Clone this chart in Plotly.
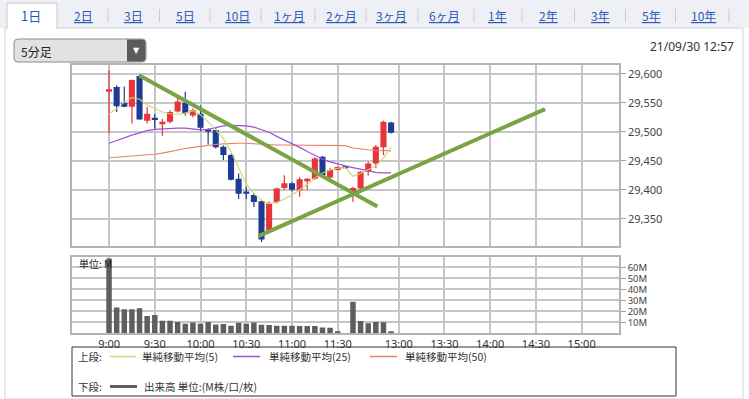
import plotly.graph_objects as go

W, H = 749, 399

# ---------------- data ----------------
times = ["9:00", "9:05", "9:10", "9:15", "9:20", "9:25", "9:30", "9:35", "9:40", "9:45", "9:50", "9:55",
         "10:00", "10:05", "10:10", "10:15", "10:20", "10:25", "10:30", "10:35", "10:40", "10:45", "10:50", "10:55",
         "11:00", "11:05", "11:10", "11:15", "11:20", "11:25", "11:30", "11:35",
         "12:30", "12:35", "12:40", "12:45", "12:50", "12:55"]
opens = [29569, 29577, 29550, 29543, 29596, 29519, 29524, 29514, 29517, 29535, 29550, 29528,
         29531, 29504, 29503, 29474, 29460, 29419, 29397, 29391, 29380, 29330, 29379, 29403,
         29411, 29399, 29416, 29419, 29457, 29421, 29434, 29440,
         29395, 29402, 29431, 29445, 29473, 29516]
highs = [29606, 29580, 29578, 29590, 29598, 29543, 29530, 29522, 29537, 29558, 29569, 29540,
         29545, 29506, 29506, 29476, 29462, 29428, 29405, 29394, 29381, 29380, 29404, 29425,
         29413, 29422, 29420, 29456, 29458, 29438, 29440, 29440,
         29405, 29432, 29448, 29477, 29519, 29517]
lows = [29497, 29534, 29542, 29514, 29521, 29514, 29505, 29493, 29514, 29533, 29528, 29525,
        29500, 29478, 29471, 29451, 29416, 29384, 29384, 29370, 29310, 29328, 29376, 29400,
        29397, 29388, 29400, 29417, 29424, 29419, 29433, 29438,
        29379, 29400, 29424, 29437, 29460, 29497]
closes = [29573, 29544, 29543, 29589, 29521, 29531, 29520, 29517, 29534, 29552, 29532, 29537,
          29507, 29500, 29473, 29460, 29417, 29393, 29393, 29379, 29314, 29376, 29402, 29411,
          29400, 29418, 29419, 29454, 29425, 29434, 29439, 29438,
          29403, 29431, 29445, 29474, 29517, 29498]
volumes = [68, 23.5, 21.8, 21.8, 22.7, 15.7, 16.6, 11.5, 11.5, 10.2, 8.6, 9.9,
           8.8, 10.4, 8.1, 8.5, 6.9, 9.5, 8.6, 9.8, 7.7, 7.6, 6.9, 6.9,
           6.8, 6.7, 6.7, 6.6, 5.2, 5.1, 1.2, None,
           28.8, 11.2, 9.1, 10.3, 10.0, 1.2]
ma5 = [29531, 29540, 29551, 29559, 29556, 29546, 29540, 29534, 29531, 29530, 29532, 29536,
       29529, 29517, 29503, 29488, 29466, 29437, 29410, 29393, 29382, 29376, 29378, 29384,
       29391, 29400, 29409, 29420, 29429, 29434, 29437, 29438,
       29423, 29428, 29434, 29441, 29455, 29474]
ma25 = [29480, 29485, 29490, 29494, 29498, 29502, 29504, 29505, 29506, 29506, 29506, 29504,
        29503, 29504, 29507, 29510, 29511, 29511, 29510, 29508, 29504, 29499, 29492, 29486,
        29480, 29473, 29466, 29459, 29453, 29448, 29444, 29441,
        29438, 29435, 29432, 29430, 29429, 29429]
ma50 = [29455, 29456, 29456, 29457, 29458, 29460, 29461, 29463, 29466, 29469, 29471, 29473,
        29475, 29477, 29478, 29479, 29480, 29480, 29480, 29479, 29478, 29477, 29477, 29477,
        29477, 29477, 29477, 29477, 29477, 29476, 29476, 29476,
        29472, 29470, 29469, 29468, 29467, 29467]
trend_down_t = ["9:20", "12:46"]
trend_down_p = [29597, 29371]
trend_up_t = ["10:38", "14:36"]
trend_up_p = [29320, 29539]
tick_times = ["9:00", "9:30", "10:00", "10:30", "11:00", "11:30", "13:00", "13:30", "14:00", "14:30", "15:00"]
price_ticks = [29350, 29400, 29450, 29500, 29550, 29600]
vol_ticks = [10, 20, 30, 40, 50, 60]
vol_tick_text = ["10M", "20M", "30M", "40M", "50M", "60M"]
tabs = ["1日", "2日", "3日", "5日", "10日", "1ヶ月", "2ヶ月", "3ヶ月", "6ヶ月", "1年", "2年", "3年", "5年", "10年"]


def pos(t):
    h, m = t.split(":")
    mins = int(h) * 60 + float(m)
    if mins < 12 * 60:
        return (mins - 9 * 60) / 5
    return (mins - (12 * 60 + 30)) / 5 + 32


def px(x):
    return x / W


def py(y):
    return 1 - y / H


RED = "#e6353b"
BLUE = "#1e3c96"
GRID = "#c6c6c6"
BORDER = "#b4b4b4"
FONT = "Noto Sans CJK JP"

xs = [pos(t) for t in times]

# wicks
wx = {RED: [], BLUE: []}
wy = {RED: [], BLUE: []}
body_base, body_h, body_col = [], [], []
for x, o, h, l, c in zip(xs, opens, highs, lows, closes):
    col = RED if c >= o else BLUE
    wx[col] += [x, x, None]
    wy[col] += [l, h, None]
    body_base.append(min(o, c))
    body_h.append(abs(c - o))
    body_col.append(col)

fig = go.Figure()
for col in (RED, BLUE):
    fig.add_trace(go.Scatter(x=wx[col], y=wy[col], mode="lines",
                             line=dict(color=col, width=1.2), hoverinfo="skip", showlegend=False))
fig.add_trace(go.Bar(x=xs, y=body_h, base=body_base, width=0.8,
                     marker=dict(color=body_col, line=dict(width=0)), showlegend=False))
fig.add_trace(go.Scatter(x=xs, y=ma50, mode="lines", line=dict(color="#e2846a", width=1.1), showlegend=False))
fig.add_trace(go.Scatter(x=xs, y=ma25, mode="lines", line=dict(color="#a24fd6", width=1.2), showlegend=False))
fig.add_trace(go.Scatter(x=xs, y=ma5, mode="lines", line=dict(color="#ccd870", width=1.1), showlegend=False))
fig.add_trace(go.Scatter(x=[pos(t) for t in trend_down_t], y=trend_down_p, mode="lines",
                         line=dict(color="#79a443", width=4), showlegend=False))
fig.add_trace(go.Scatter(x=[pos(t) for t in trend_up_t], y=trend_up_p, mode="lines",
                         line=dict(color="#79a443", width=4), showlegend=False))
fig.add_trace(go.Bar(x=xs, y=volumes, width=0.72, marker=dict(color="#5e5e5e", line=dict(width=0)),
                     xaxis="x2", yaxis="y2", showlegend=False))

xdom = [px(72), px(619)]
xrange_ = [-4.86, 66.9]
tickpos = [pos(t) for t in tick_times]

common_x = dict(domain=xdom, range=xrange_, tickvals=tickpos, showgrid=True, gridcolor=GRID, gridwidth=1.5,
                zeroline=False, showline=True, mirror=True, linecolor=BORDER, linewidth=1.5,
                automargin=False, fixedrange=True)
common_y = dict(side="right", showgrid=True, gridcolor=GRID, gridwidth=1.5, zeroline=False,
                showline=True, mirror=True, linecolor=BORDER, linewidth=1.5, ticks="outside",
                ticklen=5, tickcolor="#a0a0a0", automargin=False, fixedrange=True)

shapes = []
annotations = []

# tab strip
shapes.append(dict(type="rect", xref="paper", yref="paper", x0=px(0), x1=px(749), y0=py(28), y1=py(0),
                   fillcolor="#eef0f6", line=dict(width=0), layer="below"))
shapes.append(dict(type="rect", xref="paper", yref="paper", x0=px(5), x1=px(743), y0=py(399), y1=py(28),
                   fillcolor="white", line=dict(color="#cfd2da", width=1), layer="below"))
shapes.append(dict(type="rect", xref="paper", yref="paper", x0=px(7), x1=px(57), y0=py(28.5), y1=py(3),
                   fillcolor="white", line=dict(color="#c4c7d0", width=1), layer="below"))
shapes.append(dict(type="line", xref="paper", yref="paper", x0=px(7.6), x1=px(56.4), y0=py(28), y1=py(28),
                   line=dict(color="white", width=2)))

tab_centers = [31, 83.6, 133, 185.6, 237.7, 289, 341, 392, 444, 497, 548, 600, 651, 703]
for i, (t, cx) in enumerate(zip(tabs, tab_centers)):
    if i == 0:
        annotations.append(dict(text=t, x=px(cx), y=py(15.5), xref="paper", yref="paper", showarrow=False,
                                font=dict(family=FONT, size=13, color="#1d5bbf"), xanchor="center", yanchor="middle"))
    else:
        annotations.append(dict(text="<u>" + t + "</u>", x=px(cx), y=py(15.5), xref="paper", yref="paper",
                                showarrow=False, font=dict(family=FONT, size=12, color="#2a5cb8"),
                                xanchor="center", yanchor="middle"))
for sx in [108, 159.5, 210, 261, 315, 366, 418, 474, 522, 574.5, 625.5, 675.5, 729]:
    shapes.append(dict(type="line", xref="paper", yref="paper", x0=px(sx), x1=px(sx), y0=py(22), y1=py(9),
                       line=dict(color="#c8cbd4", width=1)))


# dropdown
def rounded(x0, y0, x1, y1, r, left=True, right=True):
    p = []
    if left:
        p.append(f"M {px(x0 + r)},{py(y0)}")
    else:
        p.append(f"M {px(x0)},{py(y0)}")
    if right:
        p.append(f"L {px(x1 - r)},{py(y0)} Q {px(x1)},{py(y0)} {px(x1)},{py(y0 + r)}")
        p.append(f"L {px(x1)},{py(y1 - r)} Q {px(x1)},{py(y1)} {px(x1 - r)},{py(y1)}")
    else:
        p.append(f"L {px(x1)},{py(y0)} L {px(x1)},{py(y1)}")
    if left:
        p.append(f"L {px(x0 + r)},{py(y1)} Q {px(x0)},{py(y1)} {px(x0)},{py(y1 - r)}")
        p.append(f"L {px(x0)},{py(y0 + r)} Q {px(x0)},{py(y0)} {px(x0 + r)},{py(y0)} Z")
    else:
        p.append(f"L {px(x0)},{py(y1)} Z")
    return " ".join(p)


shapes.append(dict(type="path", xref="paper", yref="paper", path=rounded(14, 39, 146, 62, 4),
                   fillcolor="#e2e2e2", line=dict(color="#8c8c8c", width=1)))
shapes.append(dict(type="path", xref="paper", yref="paper", path=rounded(127, 39.5, 145.5, 61.5, 4, left=False),
                   fillcolor="#5b5b5b", line=dict(width=0)))
annotations.append(dict(text="▼", x=px(136.5), y=py(50.5), xref="paper", yref="paper", showarrow=False,
                        font=dict(family="DejaVu Sans", size=8, color="white"), xanchor="center", yanchor="middle"))
annotations.append(dict(text="5分足", x=px(19), y=py(51), xref="paper", yref="paper", showarrow=False,
                        font=dict(family=FONT, size=12, color="#222"), xanchor="left", yanchor="middle"))
annotations.append(dict(text="21/09/30 12:57", x=px(736), y=py(46), xref="paper", yref="paper", showarrow=False,
                        font=dict(family="Noto Sans", size=12, color="#333"), xanchor="right", yanchor="middle"))
annotations.append(dict(text="単位: M", x=px(77), y=py(263.5), xref="paper", yref="paper", showarrow=False,
                        font=dict(family=FONT, size=10, color="#222"), xanchor="left", yanchor="middle"))

# legend box
shapes.append(dict(type="rect", xref="paper", yref="paper", x0=px(72), x1=px(676), y0=py(396), y1=py(347),
                   fillcolor="rgba(0,0,0,0)", line=dict(color="#333", width=1)))
leg_rows = [
    (356.5, [("上段:", 76, None), ("単純移動平均(5)", 140, (110, 136, "#ccd870", 1.5)),
             ("単純移動平均(25)", 267, (233, 260, "#a24fd6", 1.5)),
             ("単純移動平均(50)", 403, (370, 397, "#e2846a", 1.5))]),
    (386.5, [("下段:", 76, None), ("出来高 単位:(M株/口/枚)", 142, (110, 137, "#5e5e5e", 3))]),
]
for yrow, items in leg_rows:
    for text, tx, ln in items:
        annotations.append(dict(text=text, x=px(tx), y=py(yrow), xref="paper", yref="paper", showarrow=False,
                                font=dict(family=FONT, size=10.5, color="#333"), xanchor="left", yanchor="middle"))
        if ln:
            shapes.append(dict(type="line", xref="paper", yref="paper", x0=px(ln[0]), x1=px(ln[1]),
                               y0=py(yrow), y1=py(yrow), line=dict(color=ln[2], width=ln[3])))

fig.update_layout(
    width=W, height=H, autosize=False,
    margin=dict(l=0, r=0, t=0, b=0, pad=0),
    paper_bgcolor="white", plot_bgcolor="white",
    barmode="overlay", showlegend=False, hovermode=False,
    xaxis=dict(common_x, anchor="y", showticklabels=False, ticks=""),
    yaxis=dict(common_y, domain=[py(246.3), py(65.3)], range=[29302.4, 29614.5], anchor="x",
               tickvals=price_ticks, tickformat=",d",
               tickfont=dict(family="Noto Sans", size=11, color="#444")),
    xaxis2=dict(common_x, anchor="y2", ticktext=tick_times, ticks="",
                tickfont=dict(family="Noto Sans", size=11, color="#333")),
    yaxis2=dict(common_y, domain=[py(333.3), py(257.3)], range=[0, 69.2], anchor="x2",
                tickvals=vol_ticks, ticktext=vol_tick_text,
                tickfont=dict(family="Noto Sans", size=9.5, color="#444")),
    shapes=shapes, annotations=annotations,
)

fig.write_html(
    "out.html",
    config={"displayModeBar": False},
    post_script="document.body.style.margin='0';document.body.style.overflow='hidden';",
)
